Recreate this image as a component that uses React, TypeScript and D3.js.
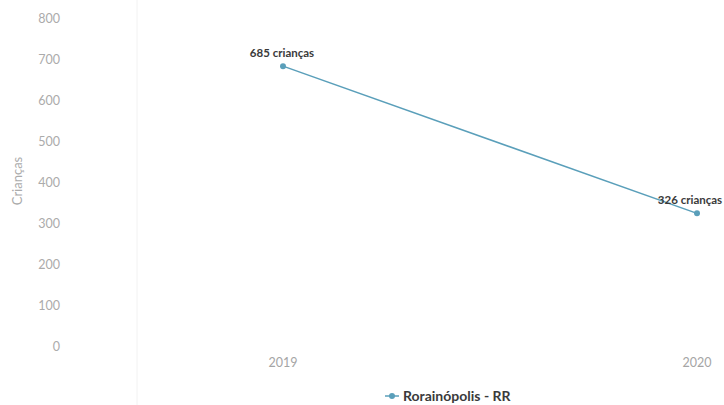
import React from "react";
import * as d3 from "d3";

const years = ["2019", "2020"];
const values = [685, 326];
const labels = ["685 crianças", "326 crianças"];
const yTicks = [0, 100, 200, 300, 400, 500, 600, 700, 800];
const seriesName = "Rorainópolis - RR";
const yTitle = "Crianças";

const W = 724;
const H = 405;

export default function App() {
  const y = d3.scaleLinear().domain([0, 800]).range([347, 19]);
  const x = d3.scalePoint<string>().domain(years).range([283, 697]);
  const line = d3
    .line<number>()
    .x((_, i) => x(years[i]) as number)
    .y((d) => y(d));
  const color = "#5a9fba";
  const font = "Lato, 'Open Sans', sans-serif";
  return (
    <svg
      width={W}
      height={H}
      style={{ position: "absolute", left: 0, top: 0, background: "#fff" }}
      fontFamily={font}
    >
      <line x1={137} x2={137} y1={0} y2={H} stroke="#f2f2f2" strokeWidth={1} />
      {yTicks.map((t) => (
        <text
          key={t}
          x={60}
          y={y(t)}
          dy="0.35em"
          textAnchor="end"
          fontSize={12.5}
          fill="#ababab"
        >
          {t}
        </text>
      ))}
      <text
        transform={`translate(22,${181}) rotate(-90)`}
        textAnchor="middle"
        fontSize={13}
        fill="#ababab"
      >
        {yTitle}
      </text>
      {years.map((yr) => (
        <text
          key={yr}
          x={x(yr)}
          y={367}
          textAnchor="middle"
          fontSize={12.5}
          fill="#a5a5a5"
        >
          {yr}
        </text>
      ))}
      <path d={line(values) || ""} fill="none" stroke={color} strokeWidth={1.5} />
      {values.map((v, i) => (
        <circle key={i} cx={x(years[i])} cy={y(v)} r={3} fill={color} />
      ))}
      {values.map((v, i) => (
        <text
          key={"l" + i}
          x={(x(years[i]) as number) + (i === 1 ? -7 : -1)}
          y={y(v) - 9}
          textAnchor="middle"
          fontSize={11.5}
          fontWeight="bold"
          fill="#3a3a3a"
        >
          {labels[i]}
        </text>
      ))}
      <g transform="translate(392,396)">
        <line x1={-7} x2={7} y1={0} y2={0} stroke={color} strokeWidth={1.5} />
        <circle cx={0} cy={0} r={3} fill={color} />
        <text x={11} y={0} dy="0.35em" fontSize={14} fontWeight="bold" fill="#3a3a3a">
          {seriesName}
        </text>
      </g>
    </svg>
  );
}
